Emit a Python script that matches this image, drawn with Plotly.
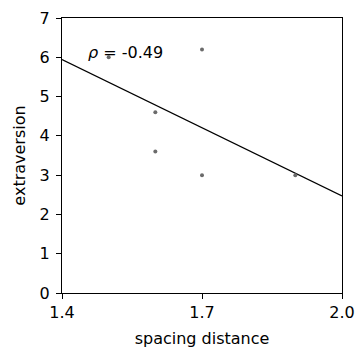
import numpy as np
import plotly.graph_objects as go

spacing_distance = [1.5, 1.6, 1.6, 1.7, 1.7, 1.9]
extraversion = [6.0, 4.6, 3.6, 6.2, 3.0, 3.0]
x_ticks = [1.4, 1.7, 2.0]
y_ticks = [0, 1, 2, 3, 4, 5, 6, 7]
rho_label = "<i>ρ</i> = -0.49"

slope, intercept = np.polyfit(spacing_distance, extraversion, 1)
line_x = [1.4, 2.0]
line_y = [intercept + slope * v for v in line_x]

fig = go.Figure()
fig.add_trace(go.Scatter(x=line_x, y=line_y, mode="lines",
                         line=dict(color="black", width=1.3), showlegend=False))
fig.add_trace(go.Scatter(x=spacing_distance, y=extraversion, mode="markers",
                         marker=dict(color="#6b6b6b", size=4), showlegend=False))
fig.add_annotation(x=1.452, y=6.13, text=rho_label, showarrow=False,
                   xanchor="left", yanchor="middle",
                   font=dict(family="DejaVu Sans", size=16, color="black"))

axis_common = dict(showline=True, linecolor="black", linewidth=1.3, mirror=True,
                   ticks="outside", ticklen=5, tickwidth=1.2, tickcolor="black",
                   showgrid=False, zeroline=False,
                   tickfont=dict(family="DejaVu Sans", size=16, color="black"))
fig.update_xaxes(range=[1.4, 2.0], tickvals=x_ticks, ticktext=["1.4", "1.7", "2.0"],
                 ticklabelstandoff=0,
                 title=dict(text="spacing distance", standoff=11,
                            font=dict(family="DejaVu Sans", size=16, color="black")),
                 **axis_common)
fig.update_yaxes(range=[0, 7], tickvals=y_ticks, ticklabelstandoff=3,
                 title=dict(text="extraversion", standoff=9,
                            font=dict(family="DejaVu Sans", size=16, color="black")),
                 **axis_common)
fig.update_layout(width=364, height=356, margin=dict(l=62, r=18, t=9, b=63),
                  plot_bgcolor="white", paper_bgcolor="white")
fig.write_html("out.html")
